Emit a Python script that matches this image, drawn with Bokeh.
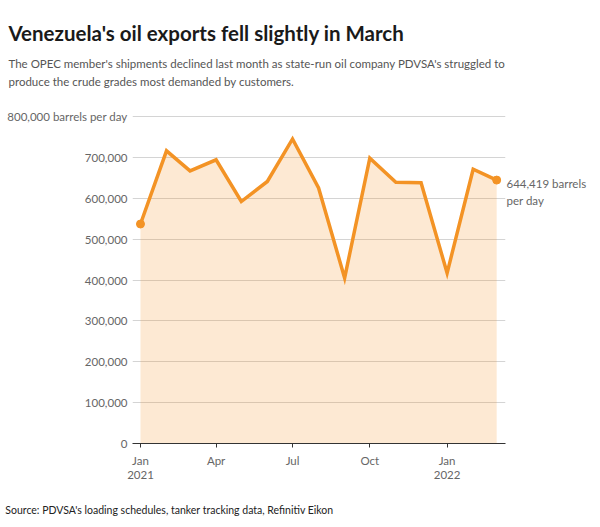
import pandas as pd
from bokeh.plotting import figure
from bokeh.models import (FixedTicker, NumeralTickFormatter, Range1d,
                          ColumnDataSource, Title, LinearAxis)
from bokeh.embed import file_html
from bokeh.resources import INLINE

# ---- data ----
months = ["2021-01-01", "2021-02-01", "2021-03-01", "2021-04-01", "2021-05-01",
          "2021-06-01", "2021-07-01", "2021-08-01", "2021-09-01", "2021-10-01",
          "2021-11-01", "2021-12-01", "2022-01-01", "2022-02-01", "2022-03-01"]
exports = [537000, 716000, 667000, 694000, 592000,
           641000, 745000, 625000, 405000, 698000,
           639000, 638000, 417000, 671000, 644419]
y_ticks = [0, 100000, 200000, 300000, 400000, 500000, 600000, 700000, 800000]
x_tick_dates = ["2021-01-01", "2021-04-01", "2021-07-01", "2021-10-01", "2022-01-01"]
x_tick_labels = ["Jan\n2021", "Apr", "Jul", "Oct", "Jan\n2022"]

title = "Venezuela's oil exports fell slightly in March"
subtitle = ("The OPEC member's shipments declined last month as state-run oil company PDVSA's struggled to\n"
            "produce the crude grades most demanded by customers.")
source_note = "Source: PDVSA's loading schedules, tanker tracking data, Refinitiv Eikon"
end_note = "644,419 barrels\nper day"

def ms(d):
    return pd.Timestamp(d).value // 10**6

xs = [ms(d) for d in months]
DAY = 86400000
src = ColumnDataSource(dict(x=xs, y=exports, zero=[0] * len(xs)))

FONT = "Lato"
ORANGE = "#F39325"

# layout (pixels)
FRAME_LEFT, FRAME_RIGHT = 132, 505
FRAME_TOP, GRID_TOP, FRAME_BOTTOM = 90, 116, 443
W, H = 592, 519
SOURCE_CENTER_PX = 169
Y_TOP = y_ticks[-1] * (FRAME_BOTTOM - FRAME_TOP) / (FRAME_BOTTOM - GRID_TOP)
NOTE_DROP = 12 * Y_TOP / (FRAME_BOTTOM - FRAME_TOP)
X_START, X_END = xs[0] - 9.5 * DAY, xs[-1] + 10.5 * DAY
SOURCE_X = X_START + (SOURCE_CENTER_PX - FRAME_LEFT) / (FRAME_RIGHT - FRAME_LEFT) * (X_END - X_START)

p = figure(width=W, height=H, output_backend="svg", toolbar_location=None,
           x_range=Range1d(X_START, X_END),
           y_range=Range1d(0, Y_TOP),
           min_border_left=FRAME_LEFT, min_border_right=W - FRAME_RIGHT,
           min_border_top=FRAME_TOP, min_border_bottom=H - FRAME_BOTTOM)
p.outline_line_color = None
p.extra_y_ranges = {"note": Range1d(NOTE_DROP, Y_TOP + NOTE_DROP)}

p.varea(x="x", y1="zero", y2="y", source=src, fill_color=ORANGE, fill_alpha=0.2)
p.line(x="x", y="y", source=src, line_color=ORANGE, line_width=3.5, line_join="miter")
p.scatter(x=[xs[0], xs[-1]], y=[exports[0], exports[-1]], size=8, color=ORANGE)

def quiet(ax):
    ax.axis_line_color = None
    ax.major_tick_line_color = None
    ax.minor_tick_line_color = None
    ax.major_tick_in = 0
    ax.major_tick_out = 0
    ax.minor_tick_in = 0
    ax.minor_tick_out = 0

# left y axis
yax = p.yaxis[0]
yax.ticker = FixedTicker(ticks=y_ticks)
yax.formatter = NumeralTickFormatter(format="0,0")
yax.major_label_overrides = {y_ticks[-1]: "800,000 barrels per day"}
quiet(yax)
yax.major_label_standoff = 5
yax.major_label_text_font = FONT
yax.major_label_text_font_size = "11.5px"
yax.major_label_text_color = "#666666"

# right axis used for the end-point note
rax = LinearAxis(y_range_name="note", ticker=FixedTicker(ticks=[exports[-1]]),
                 major_label_overrides={exports[-1]: end_note})
quiet(rax)
rax.major_label_standoff = 1
rax.major_label_text_font = FONT
rax.major_label_text_font_size = "11.5px"
rax.major_label_text_color = "#666666"
rax.major_label_text_line_height = 1.25
p.add_layout(rax, "right")

# x axis
xax = p.xaxis[0]
xtick_vals = [ms(d) for d in x_tick_dates]
xax.ticker = FixedTicker(ticks=xtick_vals)
xax.major_label_overrides = {v: l for v, l in zip(xtick_vals, x_tick_labels)}
xax.axis_line_color = "#333333"
xax.axis_line_width = 1.2
xax.major_tick_line_color = "#333333"
xax.major_tick_in = 0
xax.major_tick_out = 4
xax.minor_tick_line_color = None
xax.major_label_standoff = 6
xax.major_label_text_font = FONT
xax.major_label_text_font_size = "11.5px"
xax.major_label_text_color = "#666666"
xax.major_label_text_line_height = 1.1

# source note carried by a bare second bottom axis
sax = LinearAxis(ticker=FixedTicker(ticks=[SOURCE_X]),
                 major_label_overrides={SOURCE_X: source_note})
quiet(sax)
sax.major_label_standoff = 20
sax.major_label_text_font = FONT
sax.major_label_text_font_size = "10.5px"
sax.major_label_text_color = "#222222"
p.add_layout(sax, "below")

p.xgrid.grid_line_color = None
p.ygrid.grid_line_color = "#d4d4d4"
p.ygrid.grid_line_width = 1

# titles (first added above = nearest to the plot)
p.add_layout(Title(text=subtitle, text_font=FONT, text_font_size="11.5px",
                   text_font_style="normal", text_color="#555555",
                   text_line_height=1.38, align="left", offset=8 - FRAME_LEFT,
                   standoff=5), "above")
p.add_layout(Title(text=title, text_font=FONT, text_font_size="20.5px",
                   text_font_style="bold", text_color="#1a1a1a",
                   align="left", offset=8 - FRAME_LEFT, standoff=16), "above")

open("out.html", "w").write(file_html(p, INLINE))
